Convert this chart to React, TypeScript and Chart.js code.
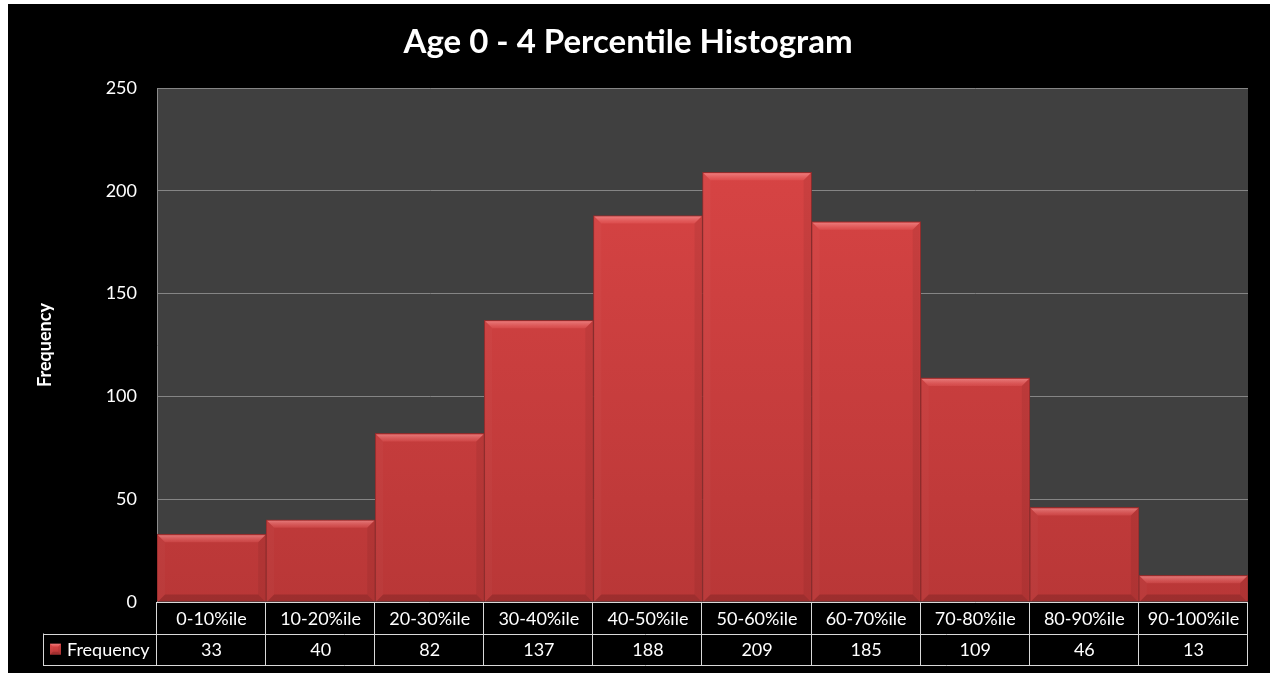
import React, { useEffect, useRef } from "react";
import { Chart, registerables } from "chart.js";

Chart.register(...registerables);

const titleText = "Age 0 - 4 Percentile Histogram";
const seriesName = "Frequency";
const yAxisTitle = "Frequency";
const categories = [
  "0-10%ile",
  "10-20%ile",
  "20-30%ile",
  "30-40%ile",
  "40-50%ile",
  "50-60%ile",
  "60-70%ile",
  "70-80%ile",
  "80-90%ile",
  "90-100%ile",
];
const frequency = [33, 40, 82, 137, 188, 209, 185, 109, 46, 13];
const yTicks = [0, 50, 100, 150, 200, 250];

const FONT = "Lato, 'Open Sans', 'DejaVu Sans', sans-serif";
const LINE = "#d9d9d9";

const plotBgPlugin = {
  id: "plotBg",
  beforeDraw(chart: any) {
    const { ctx, chartArea } = chart;
    ctx.save();
    ctx.fillStyle = "#000000";
    ctx.fillRect(0, 0, chart.width, chart.height);
    ctx.fillStyle = "#404040";
    ctx.fillRect(chartArea.left, chartArea.top, chartArea.right - chartArea.left, chartArea.bottom - chartArea.top);
    ctx.restore();
  },
};

function drawBevel(ctx: any, L: number, T: number, R: number, B: number, b: number) {
  const h = B - T;
  const bb = Math.min(b, h / 2, (R - L) / 2);
  // top
  const gTop = ctx.createLinearGradient(0, T, 0, T + bb);
  gTop.addColorStop(0, "rgba(255,170,170,0.55)");
  gTop.addColorStop(1, "rgba(255,120,120,0.2)");
  ctx.fillStyle = gTop;
  ctx.beginPath();
  ctx.moveTo(L, T);
  ctx.lineTo(R, T);
  ctx.lineTo(R - bb, T + bb);
  ctx.lineTo(L + bb, T + bb);
  ctx.closePath();
  ctx.fill();
  // left
  ctx.fillStyle = "rgba(255,255,255,0.025)";
  ctx.beginPath();
  ctx.moveTo(L, T);
  ctx.lineTo(L + bb, T + bb);
  ctx.lineTo(L + bb, B - bb);
  ctx.lineTo(L, B);
  ctx.closePath();
  ctx.fill();
  // right
  ctx.fillStyle = "rgba(0,0,0,0.06)";
  ctx.beginPath();
  ctx.moveTo(R, T);
  ctx.lineTo(R - bb, T + bb);
  ctx.lineTo(R - bb, B - bb);
  ctx.lineTo(R, B);
  ctx.closePath();
  ctx.fill();
  // bottom
  ctx.fillStyle = "rgba(0,0,0,0.15)";
  ctx.beginPath();
  ctx.moveTo(L, B);
  ctx.lineTo(R, B);
  ctx.lineTo(R - bb, B - bb);
  ctx.lineTo(L + bb, B - bb);
  ctx.closePath();
  ctx.fill();
}

const bevelPlugin = {
  id: "bevel",
  afterDatasetsDraw(chart: any) {
    const { ctx } = chart;
    const meta = chart.getDatasetMeta(0);
    ctx.save();
    meta.data.forEach((bar: any) => {
      const { x, y, base, width } = bar.getProps(["x", "y", "base", "width"], true);
      const L = x - width / 2 + 1;
      const R = x + width / 2 - 1;
      drawBevel(ctx, L, y + 1, R, base, 7);
    });
    ctx.restore();
  },
};

const tablePlugin = {
  id: "dataTable",
  afterDraw(chart: any) {
    const { ctx, chartArea } = chart;
    const xs = chart.scales.x;
    const n = categories.length;
    const step = xs.getPixelForValue(1) - xs.getPixelForValue(0);
    const top = chartArea.bottom;
    const mid = top + 31.5;
    const bot = top + 63;
    const legendLeft = 35;
    const right = chartArea.right;
    ctx.save();
    ctx.strokeStyle = LINE;
    ctx.lineWidth = 1;
    ctx.beginPath();
    ctx.moveTo(chartArea.left, Math.round(top) + 0.5);
    ctx.lineTo(right, Math.round(top) + 0.5);
    ctx.moveTo(legendLeft, Math.round(mid) + 0.5);
    ctx.lineTo(right, Math.round(mid) + 0.5);
    ctx.moveTo(legendLeft, Math.round(bot) + 0.5);
    ctx.lineTo(right, Math.round(bot) + 0.5);
    for (let i = 0; i <= n; i++) {
      const px = Math.round(xs.getPixelForValue(0) - step / 2 + i * step) - 0.5;
      ctx.moveTo(px, top);
      ctx.lineTo(px, bot + 1);
    }
    ctx.moveTo(legendLeft + 0.5, mid);
    ctx.lineTo(legendLeft + 0.5, bot + 1);
    ctx.stroke();

    ctx.fillStyle = "#ffffff";
    ctx.font = `18px ${FONT}`;
    ctx.textAlign = "center";
    ctx.textBaseline = "middle";
    categories.forEach((c, i) => {
      ctx.fillText(c, xs.getPixelForValue(i), (top + mid) / 2 + 1);
    });
    frequency.forEach((v, i) => {
      ctx.fillText(String(v), xs.getPixelForValue(i), (mid + bot) / 2 + 1);
    });

    // legend key
    const ky = (mid + bot) / 2 - 5.5;
    const g = ctx.createLinearGradient(0, ky, 0, ky + 11);
    g.addColorStop(0, "#dc4646");
    g.addColorStop(1, "#b83636");
    ctx.fillStyle = g;
    ctx.fillRect(42, ky, 11, 11);
    drawBevel(ctx, 42, ky, 53, ky + 11, 3);
    ctx.fillStyle = "#ffffff";
    ctx.textAlign = "left";
    ctx.fillText(seriesName, 59, (mid + bot) / 2 + 1);
    ctx.restore();
  },
};

export default function App() {
  const ref = useRef<HTMLCanvasElement | null>(null);

  useEffect(() => {
    if (!ref.current) return;
    const chart = new Chart(ref.current, {
      type: "bar",
      data: {
        labels: categories,
        datasets: [
          {
            label: seriesName,
            data: frequency,
            categoryPercentage: 1,
            barPercentage: 1,
            borderWidth: 1,
            borderColor: "#8e2c2c",
            backgroundColor: (c: any) => {
              const area = c.chart.chartArea;
              if (!area) return "#d44040";
              const g = c.chart.ctx.createLinearGradient(0, area.top, 0, area.bottom);
              g.addColorStop(0, "#dc4646");
              g.addColorStop(1, "#b93737");
              return g;
            },
          },
        ],
      },
      options: {
        responsive: false,
        animation: false,
        layout: { padding: { left: 0, right: 22, top: 0, bottom: 71 } },
        plugins: {
          legend: { display: false },
          tooltip: { enabled: false },
          title: {
            display: true,
            text: titleText,
            color: "#ffffff",
            font: { family: FONT, size: 33, weight: "bold" },
            padding: { top: 19, bottom: 25.4 },
          },
        },
        scales: {
          x: {
            display: false,
            offset: true,
          },
          y: {
            min: 0,
            max: 250,
            afterBuildTicks: (scale: any) => {
              scale.ticks = yTicks.map((v) => ({ value: v }));
            },
            afterFit: (scale: any) => {
              scale.width = 149;
            },
            grid: { color: "#858585", drawTicks: false, lineWidth: 1 },
            border: { display: true, color: "#8c8c8c", width: 1 },
            ticks: {
              color: "#ffffff",
              font: { family: FONT, size: 18 },
              padding: 20,
            },
            title: {
              display: true,
              text: yAxisTitle,
              color: "#ffffff",
              font: { family: FONT, size: 18, weight: "bold" },
              padding: { top: 26, bottom: 0 },
            },
          },
        },
      },
      plugins: [plotBgPlugin, bevelPlugin, tablePlugin],
    } as any);
    return () => chart.destroy();
  }, []);

  return (
    <div
      style={{
        position: "fixed",
        left: 8,
        top: 4,
        width: 1262,
        height: 669,
        background: "#000",
      }}
    >
      <canvas ref={ref} width={1262} height={669} style={{ display: "block" }} />
    </div>
  );
}
